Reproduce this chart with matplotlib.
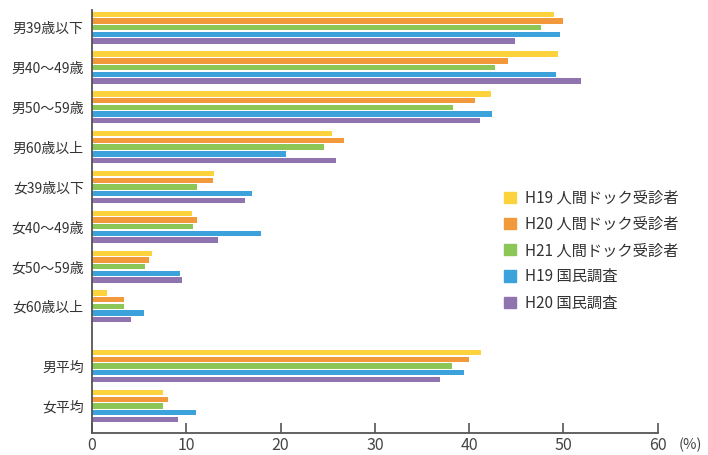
import numpy as np
import matplotlib
matplotlib.use("Agg")
import matplotlib.pyplot as plt
import matplotlib.patches as mpatches

plt.rcParams['font.family'] = ['Noto Sans CJK JP', 'DejaVu Sans']

# categories (top to bottom) and their row positions (gap before the averages)
categories = ['男39歳以下', '男40〜49歳', '男50〜59歳', '男60歳以上',
              '女39歳以下', '女40〜49歳', '女50〜59歳', '女60歳以上',
              '男平均', '女平均']
rows = [0, 1, 2, 3, 4, 5, 6, 7, 8.5, 9.5]

series_names = ['H19 人間ドック受診者', 'H20 人間ドック受診者', 'H21 人間ドック受診者',
                'H19 国民調査', 'H20 国民調査']
h19_dock = [49.0, 49.4, 42.3, 25.4, 12.9, 10.6, 6.4, 1.6, 41.3, 7.5]
h20_dock = [49.9, 44.1, 40.6, 26.7, 12.8, 11.1, 6.0, 3.4, 40.0, 8.1]
h21_dock = [47.6, 42.7, 38.3, 24.6, 11.1, 10.7, 5.6, 3.4, 38.2, 7.5]
h19_natl = [49.6, 49.2, 42.4, 20.6, 17.0, 17.9, 9.3, 5.5, 39.4, 11.0]
h20_natl = [44.9, 51.9, 41.2, 25.9, 16.2, 13.4, 9.5, 4.1, 36.9, 9.1]
series = [h19_dock, h20_dock, h21_dock, h19_natl, h20_natl]
colors = ['#FCD33D', '#F29A3B', '#8CC656', '#3CA2DC', '#9074AF']

fig = plt.figure(figsize=(7.08, 4.55), dpi=100)
ax = fig.add_axes([0.130, 0.0484, 0.799, 0.930])

step = 0.168
bar_h = 0.135
rows = np.array(rows)
for i, (vals, c) in enumerate(zip(series, colors)):
    ax.barh(rows + (i - 2) * step, vals, height=bar_h, color=c, label=series_names[i])

ax.set_xlim(0, 60)
ax.set_ylim(10.18, -0.45)
ax.set_xticks(range(0, 61, 10))
ax.set_yticks(rows)
ax.set_yticklabels(categories)

for s in ['top', 'right']:
    ax.spines[s].set_visible(False)
for s in ['left', 'bottom']:
    ax.spines[s].set_color('#555555')
    ax.spines[s].set_linewidth(1.3)

ax.tick_params(axis='x', direction='in', length=7, width=1.2, color='#555555',
               labelsize=11.5, labelcolor='#444444', pad=3)
ax.tick_params(axis='y', length=0, labelsize=10, labelcolor='#333333', pad=6)

fig.text(0.975, 0.022, '(%)', fontsize=10.5, color='#444444', ha='center', va='center')

handles = [mpatches.Patch(color=c) for c in colors]
leg = ax.legend(handles, series_names, loc='upper left', bbox_to_anchor=(0.693, 0.613),
                bbox_transform=fig.transFigure, frameon=False, fontsize=11,
                handlelength=0.75, handleheight=0.75, handletextpad=0.6, labelspacing=0.6)
for t in leg.get_texts():
    t.set_color('#333333')

fig.savefig('out.png', dpi=100)
